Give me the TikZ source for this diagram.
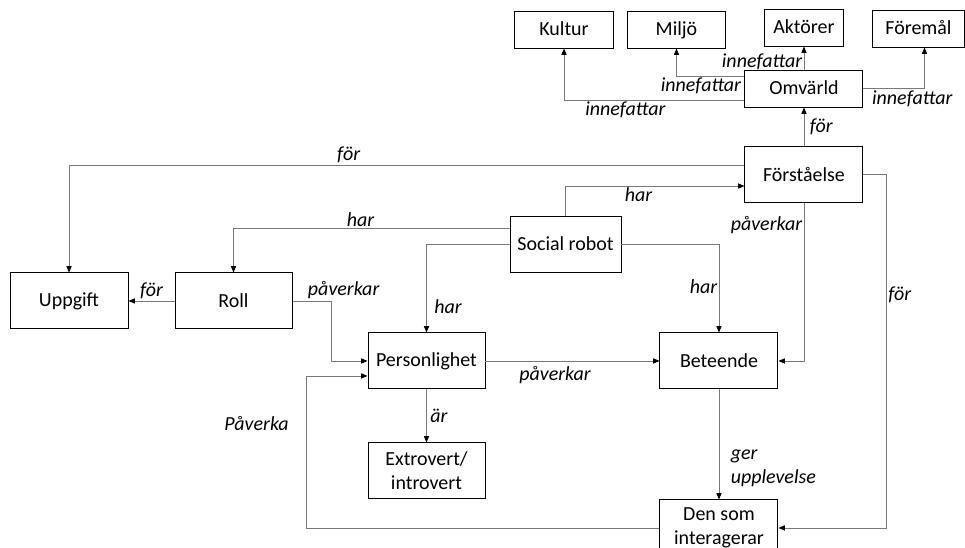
\documentclass[tikz,border=0pt]{standalone}
\usepackage{fontspec}
\setmainfont{Carlito}
\usepackage{tikz}
\usetikzlibrary{arrows.meta, positioning}
\definecolor{linegray}{RGB}{120,120,120}

\begin{document}
\begin{tikzpicture}[
  font=\fontsize{14.2}{17}\selectfont,
  box/.style={
    draw,
    line width=0.7pt,
    align=center,
    inner sep=2pt,
    minimum height=14mm,
    minimum width=29.5mm
  },
  topbox/.style={box, minimum height=9.25mm, text height=2.2ex, text depth=0.3ex},
  arrow/.style={-{Triangle[length=1.6mm, width=1.3mm, color=black]}, draw=linegray, line width=0.6pt},
  lbl/.style={font=\fontsize{14.2}{17}\selectfont\itshape, inner sep=1pt}
]
\useasboundingbox (-141.375mm,61mm) rectangle (99.875mm,-75.75mm);

% ================= centre =================
\node[box, minimum width=27.75mm] (robot) {Social robot};

\node[box, above right=3.25mm and 30.75mm of robot] (forst) {Förståelse};

% ================= surroundings =================
\node[topbox, above=9.5mm of forst] (omv) {Omvärld};

\node[topbox, minimum width=19.75mm, above=5.75mm of omv] (akt) {Aktörer};

\node[topbox, minimum width=24.5mm, left=9.5mm of akt, yshift=-0.5mm] (miljo) {Miljö};

\node[topbox, minimum width=24.75mm, left=3.25mm of miljo] (kultur) {Kultur};

\node[topbox, minimum width=23mm, right=7mm of akt, yshift=-0.25mm] (foremal) {Föremål};

% ================= robot parts =================
\node[box, minimum width=29.25mm, below left=0mm and 54.25mm of robot] (roll) {Roll};

\node[box, left=11.5mm of roll] (uppg) {Uppgift};

\node[box, minimum width=29.25mm, below right=0.75mm and 18.75mm of roll] (pers) {Personlighet};

\node[box, right=43.5mm of pers] (bet) {Beteende};

\node[box, minimum width=29.25mm, below=13.25mm of pers] (extro) {Extrovert/\\introvert};

\node[box, below=27.5mm of bet] (user) {Den som\\interagerar};

% top row
\draw[arrow] (forst) -- node[lbl, right=1mm] {för} (omv);
\draw[arrow] (omv) -- node[lbl, left, yshift=-1mm] {innefattar} (akt);
\draw[arrow] ([yshift=3.125mm]omv.west) -| node[lbl, below, pos=.32] {innefattar} (miljo.south);
\draw[arrow] ([yshift=-2.875mm]omv.west) -| node[lbl, below, pos=.33] {innefattar} (kultur.south);
\draw[arrow] (omv.east) -| node[lbl, below, pos=.4] {innefattar} ([xshift=1.5mm]foremal.south);

% from Förståelse
\draw[arrow] ([yshift=2.25mm]forst.west) -| node[lbl, above, pos=.293] {för} (uppg.north);
\draw[arrow] (forst.south) |- node[lbl, left, pos=.07] {påverkar} (bet.east);
\draw[arrow] (forst.east) -- ++(5.75mm,0) |- node[lbl, right, pos=.17] {för} (user.east);

% from Social robot
\draw[arrow] (robot.north) |- node[lbl, below, pos=.704] {har} ([yshift=-3mm]forst.west);
\draw[arrow] ([yshift=4mm]robot.west) -| node[lbl, above, pos=.27] {har} (roll.north);
\draw[arrow] (robot.west) -| node[lbl, right=1.5mm, pos=.855] {har} (pers.north);
\draw[arrow] (robot.east) -| node[lbl, left, pos=.74] {har} (bet.north);

% lower part
\draw[arrow] (roll) -- node[lbl, above] {för} (uppg);
\draw[arrow] (roll.east) -- node[lbl, above right, pos=.35] {påverkar} ++(9.75mm,0) |- (pers.west);
\draw[arrow] (pers) -- node[lbl, below=1mm, pos=.4] {påverkar} (bet);
\draw[arrow] (pers) -- node[lbl, right=0.5mm] {är} (extro);
\draw[arrow] (bet) -- node[lbl, right=2.5mm, pos=.72, align=left] {ger\\upplevelse} (user);
\draw[arrow] (user.west) -| node[lbl, left=4mm, pos=.843] {Påverka}
  ([xshift=-15.25mm, yshift=-3.75mm]pers.west) -- ([yshift=-3.75mm]pers.west);

\end{tikzpicture}
\end{document}
